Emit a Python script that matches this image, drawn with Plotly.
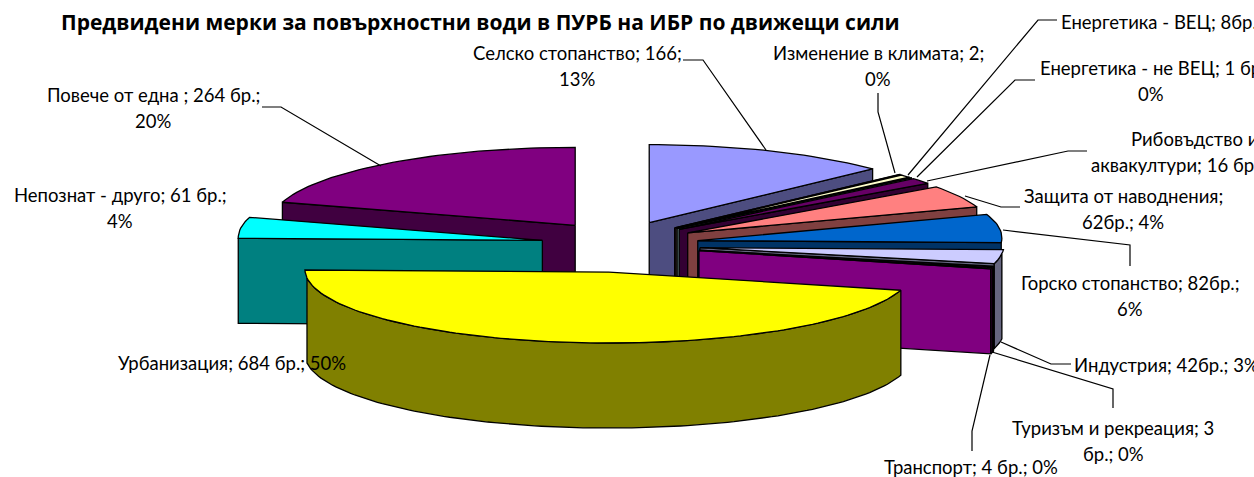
import math
import plotly.graph_objects as go

# ---- data ----
CATEGORIES = ["Селско стопанство", "Изменение в климата", "Енергетика - ВЕЦ", "Енергетика - не ВЕЦ",
              "Рибовъдство и аквакултури", "Защита от наводнения", "Горско стопанство", "Индустрия",
              "Туризъм и рекреация", "Транспорт", "Урбанизация", "Непознат - друго", "Повече от една"]
VALUES = [166, 2, 8, 1, 16, 62, 82, 42, 3, 4, 684, 61, 264]
TOP_COLORS = ["#9999FF", "#993366", "#FFFFCC", "#CCFFFF", "#660066", "#FF8080", "#0066CC",
              "#CCCCFF", "#000080", "#FF00FF", "#FFFF00", "#00FFFF", "#800080"]
SIDE_COLORS = ["#4D4D80", "#4D1A33", "#808066", "#668080", "#330033", "#804040", "#003366",
               "#666680", "#000040", "#800080", "#808000", "#008080", "#400040"]
TITLE = "Предвидени мерки за повърхностни води в ПУРБ на ИБР по движещи сили"

# (lines, x, y of first line, anchor)
LABELS = [
    (["Селско стопанство; 166;", "13%"], 577, 53, "center"),
    (["Изменение в климата; 2;", "0%"], 878, 53, "center"),
    (["Енергетика - ВЕЦ; 8бр.; 1%"], 1059, 22, "left"),
    (["Енергетика - не ВЕЦ; 1 бр.;"], 1038, 68, "left"),
    (["0%"], 1151, 94, "center"),
    (["Рибовъдство и"], 1129, 139, "left"),
    (["аквакултури; 16 бр.;"], 1089, 165, "left"),
    (["Защита от наводнения;", "62бр.; 4%"], 1123, 196, "center"),
    (["Горско стопанство; 82бр.;", "6%"], 1130, 283, "center"),
    (["Индустрия; 42бр.; 3%"], 1072, 365, "left"),
    (["Туризъм и рекреация; 3", "бр.; 0%"], 1113, 428, "center"),
    (["Транспорт; 4 бр.; 0%"], 971, 467, "center"),
    (["Урбанизация; 684 бр.; 50%"], 116, 363, "left"),
    (["Непознат - друго; 61 бр.;", "4%"], 120, 195, "center"),
    (["Повече от една ; 264 бр.;", "20%"], 153, 95, "center"),
]
LEADERS = [
    [(683, 60), (703, 60), (766, 150)],
    [(878, 93), (878, 112), (895, 173)],
    [(1057, 20), (1038, 20), (908, 175)],
    [(1035, 80), (1015, 80), (917, 177)],
    [(1087, 151), (1068, 151), (927, 181)],
    [(1020, 207), (1001, 207), (965, 196)],
    [(1130, 266), (1130, 245), (1003, 230)],
    [(1071, 364), (1051, 364), (1001, 342)],
    [(1113, 408), (1113, 389), (992, 352)],
    [(972, 451), (972, 431), (990, 355)],
    [(262, 107), (281, 107), (381, 166)],
]

# ---- projection settings ----
CX, CY = 620, 246.6
EXPLODE_X, EXPLODE_Y = 80, 25.7
R0, K = 302, 0.12
RY0, RY1 = 74.5, 3.5
SAG = 6
DEPTH = 85
FONT = "Lato, Carlito, 'Open Sans', sans-serif"
LINE_H = 26


def rim(apex, t):
    s, c = math.sin(t), math.cos(t)
    return apex[0] + R0 * s * (1 + K * c), apex[1] - (RY0 + RY1 * c) * c + SAG * s * s


def poly(fig, pts, color):
    xs = [p[0] for p in pts] + [pts[0][0]]
    ys = [p[1] for p in pts] + [pts[0][1]]
    fig.add_trace(go.Scatter(x=xs, y=ys, mode="lines", fill="toself", fillcolor=color,
                             line=dict(color="#000000", width=1.3), hoverinfo="skip", showlegend=False))


fig = go.Figure()
total = sum(VALUES)
slices = []
acc = 0.0
for i, v in enumerate(VALUES):
    a = acc / total * 2 * math.pi
    acc += v
    b = acc / total * 2 * math.pi
    slices.append((i, a, b))

# painter's order: back slices first
slices.sort(key=lambda s: -math.cos((s[1] + s[2]) / 2))

for i, a, b in slices:
    m = (a + b) / 2
    apex = (CX + EXPLODE_X * math.sin(m), CY - EXPLODE_Y * math.cos(m))
    side = SIDE_COLORS[i]
    n = max(3, int((b - a) / math.radians(1.5)))
    ts = [a + (b - a) * j / n for j in range(n + 1)]
    rimpts = [rim(apex, t) for t in ts]
    # radial cut faces
    if math.sin(a) < 0:
        p = rimpts[0]
        poly(fig, [apex, p, (p[0], p[1] + DEPTH), (apex[0], apex[1] + DEPTH)], side)
    if math.sin(b) > 0:
        p = rimpts[-1]
        poly(fig, [apex, p, (p[0], p[1] + DEPTH), (apex[0], apex[1] + DEPTH)], side)
    # outer wall (front part of rim)
    front = [p for p, t in zip(rimpts, ts) if math.cos(t) < 0.02]
    if len(front) >= 2:
        poly(fig, front + [(p[0], p[1] + DEPTH) for p in reversed(front)], side)
    # top
    poly(fig, [apex] + rimpts, TOP_COLORS[i])

for pts in LEADERS:
    fig.add_trace(go.Scatter(x=[p[0] for p in pts], y=[p[1] for p in pts], mode="lines",
                             line=dict(color="#000000", width=1.2), hoverinfo="skip", showlegend=False))

ann = [dict(x=480, y=22, text=f"<b>{TITLE}</b>", showarrow=False, xanchor="center", yanchor="middle",
            font=dict(family="'Open Sans', sans-serif", size=21, color="#000000"))]
for lines, x, y, anchor in LABELS:
    for j, line in enumerate(lines):
        ann.append(dict(x=x, y=y + j * LINE_H, text=line, showarrow=False, xanchor=anchor, yanchor="middle",
                        font=dict(family=FONT, size=18.5, color="#000000")))

fig.update_layout(
    width=1254, height=477, margin=dict(l=0, r=0, t=0, b=0),
    paper_bgcolor="white", plot_bgcolor="white", showlegend=False, annotations=ann,
    xaxis=dict(range=[0, 1254], visible=False, fixedrange=True),
    yaxis=dict(range=[477, 0], visible=False, fixedrange=True),
)
fig.write_html("out.html", config={"displayModeBar": False},
               post_script="document.body.style.margin='0';document.documentElement.style.overflow='hidden';")
